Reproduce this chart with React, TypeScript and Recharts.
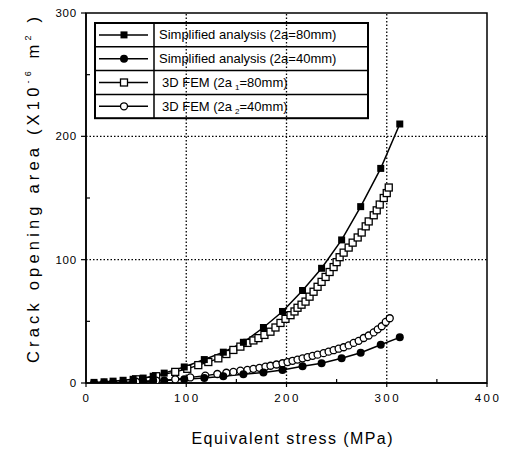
import React from 'react';
import { LineChart, Line, XAxis, YAxis, ReferenceLine, ReferenceArea, Customized } from 'recharts';

// Simplified analysis, shared stress steps (MPa)
const simpStress = [8, 18, 27, 37, 47, 57, 67, 78, 98, 118, 137, 157, 177, 196, 216, 235, 255, 274, 294, 313];
const simpArea80 = [0.5, 1, 1.5, 2.2, 3, 4, 5.5, 8, 13, 19, 25, 33, 45, 58, 75, 93, 116, 143, 174, 210];
const simpArea40 = [0.1, 0.2, 0.4, 0.6, 0.9, 1.2, 1.6, 2, 3, 4, 5.5, 7, 8.5, 10.5, 13.5, 16, 20, 24.5, 31, 37];

// 3D FEM, 2a1 = 80mm
const fem80Stress = [50, 70, 89, 101, 112, 122, 132, 140, 147, 154, 161, 167, 172, 178, 184, 189, 194, 199, 204, 208, 211, 215, 219, 223, 227, 231, 235, 239, 243, 247, 250, 253, 257, 262, 266, 271, 275, 279, 282, 287, 290, 293, 297, 300, 302];
const fem80Area = [3, 5.5, 9, 11.5, 14.5, 17, 20, 23.5, 26.8, 29.5, 32.5, 34.5, 36.4, 39, 41.6, 45, 48.7, 52, 55, 58, 61, 63.5, 66, 70, 74, 78, 82, 86, 90, 94, 98, 102, 105.7, 109.8, 113.8, 118, 122, 127, 131, 136, 140, 144.7, 150, 154, 158.5];

// 3D FEM, 2a2 = 40mm
const fem40Stress = [50, 70, 89, 104, 119, 131, 140, 147, 154, 161, 167, 173, 179, 184, 190, 196, 201, 206, 211, 216, 221, 226, 231, 237, 242, 247, 252, 257, 262, 267, 272, 277, 282, 287, 291, 295, 299, 303];
const fem40Area = [1, 2, 3, 4.5, 6, 7.3, 8.3, 9, 10, 10.6, 11.5, 12.3, 13.2, 14, 15, 16, 17, 18, 19, 20, 21, 22, 23, 24.2, 25.4, 26.6, 27.8, 29, 30.5, 32.5, 34.2, 36.5, 38.5, 41, 43.5, 46, 49.5, 52.5];

const xTicks = [0, 50, 100, 150, 200, 250, 300, 350, 400];
const yTicks = [0, 50, 100, 150, 200, 250, 300];
const gridX = [100, 200, 300];
const gridY = [100, 200];

const zip = (xs: number[], ys: number[]) => xs.map((x, i) => ({ x, y: ys[i] }));

const simp80Data = zip(simpStress, simpArea80);
const simp40Data = zip(simpStress, simpArea40);
const fem80Data = zip(fem80Stress, fem80Area);
const fem40Data = zip(fem40Stress, fem40Area);

const FONT = '"Liberation Sans", Arial, Helvetica, sans-serif';

const FilledSquare = (p: any) => <rect key={p.key} x={p.cx - 3.5} y={p.cy - 3.5} width={7} height={7} fill="#000" />;
const FilledCircle = (p: any) => <circle key={p.key} cx={p.cx} cy={p.cy} r={4} fill="#000" />;
const OpenSquare = (p: any) => (
  <rect key={p.key} x={p.cx - 3.5} y={p.cy - 3.5} width={7} height={7} fill="#fff" stroke="#000" strokeWidth={1.3} />
);
const OpenCircle = (p: any) => <circle key={p.key} cx={p.cx} cy={p.cy} r={3.5} fill="#fff" stroke="#000" strokeWidth={1.3} />;

const XTick = (p: any) => {
  const v = p.payload.value;
  const major = v % 100 === 0;
  return (
    <g>
      <line x1={p.x} x2={p.x} y1={p.y} y2={major ? p.y + 4 : p.y - 4} stroke="#000" strokeWidth={1.2} />
      {major && (
        <text x={p.x + 1} y={p.y + 19} textAnchor="middle" fontFamily={FONT} fontSize={11.5} style={{ letterSpacing: 2.5 }} fill="#000">
          {v}
        </text>
      )}
    </g>
  );
};

const YTick = (p: any) => {
  const v = p.payload.value;
  const major = v % 100 === 0;
  return (
    <g>
      <line x1={p.x} x2={major ? p.x - 5 : p.x + 4} y1={p.y} y2={p.y} stroke="#000" strokeWidth={1.2} />
      {major && (
        <text x={p.x - 9} y={p.y + 4} textAnchor="end" fontFamily={FONT} fontSize={11.5} style={{ letterSpacing: 0.8 }} fill="#000">
          {v}
        </text>
      )}
    </g>
  );
};

const legendRows = [
  { label: 'Simplified analysis (2a=80mm)', marker: 'fs' },
  { label: 'Simplified analysis (2a=40mm)', marker: 'fc' },
  { label: '3D FEM (2a', sub: '1', rest: '=80mm)', marker: 'os' },
  { label: '3D FEM (2a', sub: '2', rest: '=40mm)', marker: 'oc' },
];

const LegendBox = () => {
  const w = 273;
  const rowH = 23.8;
  const h = rowH * 4;
  const divX = 59;
  return (
    <g transform="translate(95,23)">
      <rect x={0} y={0} width={w} height={h} fill="#fff" stroke="#000" strokeWidth={2} />
      <line x1={divX} x2={divX} y1={0} y2={h} stroke="#000" strokeWidth={1.5} />
      {legendRows.map((r, i) => {
        const cy = rowH * i + rowH / 2;
        const mx = 29;
        return (
          <g key={r.marker}>
            {i > 0 && <line x1={0} x2={w} y1={rowH * i} y2={rowH * i} stroke="#000" strokeWidth={1.5} />}
            <line x1={4} x2={53} y1={cy} y2={cy} stroke="#000" strokeWidth={1.5} />
            {r.marker === 'fs' && <FilledSquare cx={mx} cy={cy} />}
            {r.marker === 'fc' && <FilledCircle cx={mx} cy={cy} />}
            {r.marker === 'os' && <OpenSquare cx={mx} cy={cy} />}
            {r.marker === 'oc' && <OpenCircle cx={mx} cy={cy} />}
            <text x={r.sub ? 67 : 64} y={cy + 4.5} fontFamily={FONT} fontSize={13} fill="#000">
              {r.label}
              {r.sub && (
                <>
                  <tspan fontSize={8} dx={3} dy={3}>{r.sub}</tspan>
                  <tspan dy={-3}>{r.rest}</tspan>
                </>
              )}
            </text>
          </g>
        );
      })}
    </g>
  );
};

const AxisTitles = () => (
  <g fontFamily={FONT} fill="#000">
    <text x={292} y={444} textAnchor="middle" fontSize={16} textLength={201} lengthAdjust="spacing">
      Equivalent stress (MPa)
    </text>
    <text transform="translate(39,190) rotate(-90)" textAnchor="middle" fontSize={16.5} textLength={346} lengthAdjust="spacing">
      Crack opening area (X10
      <tspan fontSize={9} dy={-8}>-6</tspan>
      <tspan dy={8}> m</tspan>
      <tspan fontSize={9} dy={-8}>2</tspan>
      <tspan dy={8}> )</tspan>
    </text>
  </g>
);

export default function App() {
  return (
    <div style={{ position: 'absolute', left: 0, top: 0, background: '#fff' }}>
      <LineChart width={507} height={449} margin={{ top: 13, right: 20, bottom: 36, left: 46 }}>
        <XAxis
          type="number"
          dataKey="x"
          domain={[0, 400]}
          ticks={xTicks}
          allowDataOverflow
          tickSize={0}
          tickMargin={0}
          tickLine={false}
          tick={<XTick />}
          axisLine={{ stroke: '#000', strokeWidth: 1.5 }}
          height={30}
        />
        <YAxis
          type="number"
          domain={[0, 300]}
          ticks={yTicks}
          allowDataOverflow
          tickSize={0}
          tickMargin={0}
          tickLine={false}
          tick={<YTick />}
          axisLine={{ stroke: '#000', strokeWidth: 1.5 }}
          width={40}
        />
        <ReferenceArea x1={0} x2={400} y1={0} y2={300} fill="none" stroke="#000" strokeWidth={1.5} fillOpacity={0} />
        {gridX.map((g) => (
          <ReferenceLine key={'gx' + g} x={g} stroke="#000" strokeWidth={1.3} strokeDasharray="1.5 2" />
        ))}
        {gridY.map((g) => (
          <ReferenceLine key={'gy' + g} y={g} stroke="#000" strokeWidth={1.3} strokeDasharray="1.5 2" />
        ))}
        <Line data={fem80Data} dataKey="y" stroke="#000" strokeWidth={1.3} dot={<OpenSquare />} isAnimationActive={false} />
        <Line data={fem40Data} dataKey="y" stroke="#000" strokeWidth={1.3} dot={<OpenCircle />} isAnimationActive={false} />
        <Line data={simp80Data} dataKey="y" stroke="#000" strokeWidth={1.5} dot={<FilledSquare />} isAnimationActive={false} />
        <Line data={simp40Data} dataKey="y" stroke="#000" strokeWidth={1.5} dot={<FilledCircle />} isAnimationActive={false} />
        <Customized component={<LegendBox />} />
        <Customized component={<AxisTitles />} />
      </LineChart>
    </div>
  );
}
